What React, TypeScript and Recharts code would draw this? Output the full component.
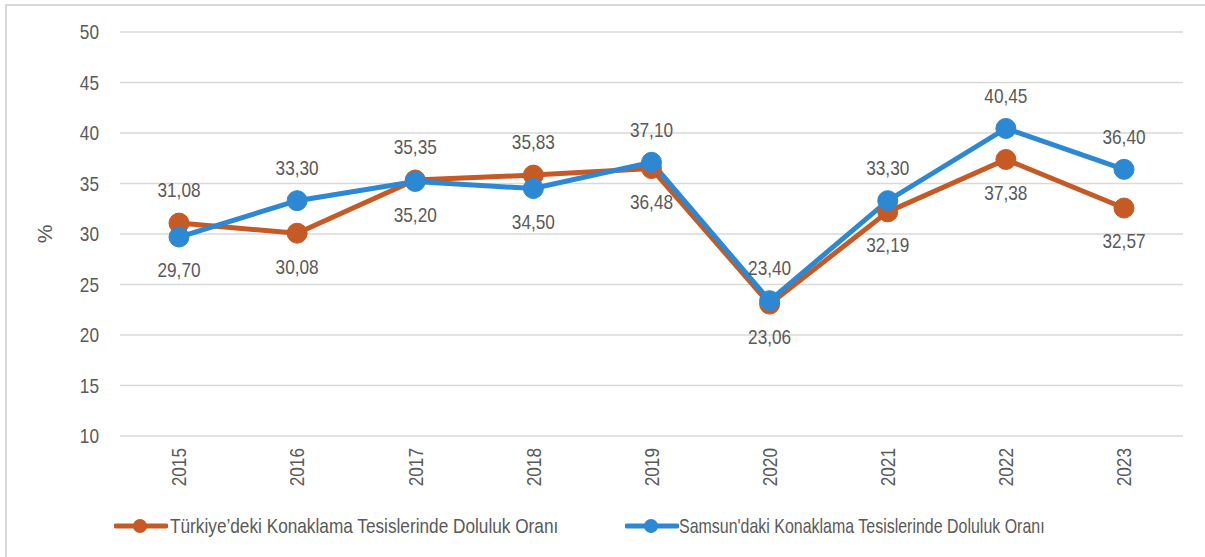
import { LineChart, Line, XAxis, YAxis, CartesianGrid, Legend, LabelList } from "recharts";

const years = ["2015", "2016", "2017", "2018", "2019", "2020", "2021", "2022", "2023"];
const turkiye = [31.08, 30.08, 35.35, 35.83, 36.48, 23.06, 32.19, 37.38, 32.57];
const samsun = [29.7, 33.3, 35.2, 34.5, 37.1, 23.4, 33.3, 40.45, 36.4];
const yTicks = [10, 15, 20, 25, 30, 35, 40, 45, 50];

const seriesNames = {
  tr: "Türkiye’deki Konaklama Tesislerinde Doluluk Oranı",
  sm: "Samsun'daki Konaklama Tesislerinde Doluluk Oranı",
};

const ORANGE = "#c55a24";
const BLUE = "#2c88d2";
const TEXT = "#595959";
// no Arial Narrow available: Liberation Sans squeezed horizontally instead
const FONT = "'Liberation Sans', Arial, sans-serif";
const NARROW = 0.82;

const data = years.map((y, i) => ({ year: y, tr: turkiye[i], sm: samsun[i] }));

const fmt = (v: number) => v.toFixed(2).replace(".", ",");

const NarrowText = ({ x, y, rotate = 0, anchor = "middle", children }: any) => (
  <text
    transform={`translate(${x}, ${y}) rotate(${rotate}) scale(${NARROW}, 1)`}
    x={0}
    y={0}
    dy="0.35em"
    textAnchor={anchor}
    fill={TEXT}
    fontSize={21}
    fontFamily={FONT}
  >
    {children}
  </text>
);

// higher of the two series gets its label above, the lower one below
const makeLabel = (key: "tr" | "sm") => (props: any) => {
  const { x, y, value, index } = props;
  const other = key === "tr" ? samsun[index] : turkiye[index];
  const above = value >= other;
  return (
    <NarrowText x={x} y={above ? y - 33 : y + 33}>
      {fmt(value)}
    </NarrowText>
  );
};

const YearTick = ({ x, y, payload }: any) => (
  <NarrowText x={x} y={y} rotate={-90} anchor="end">
    {payload.value}
  </NarrowText>
);

const ValueTick = ({ x, y, payload }: any) => (
  <NarrowText x={x} y={y} anchor="end">
    {payload.value}
  </NarrowText>
);

const LegendIcon = ({ color }: { color: string }) => (
  <svg width={54} height={20} style={{ display: "block" }}>
    <line x1={2} y1={10} x2={52} y2={10} stroke={color} strokeWidth={5} strokeLinecap="round" />
    <circle cx={26} cy={10} r={7} fill={color} />
  </svg>
);

const legendText = (sx: number): React.CSSProperties => ({
  display: "inline-block",
  whiteSpace: "nowrap",
  transform: `scaleX(${sx})`,
  transformOrigin: "left center",
});

const CustomLegend = () => (
  <div style={{ position: "relative", width: 1205, height: 40, fontFamily: FONT, fontSize: 21, color: TEXT }}>
    <div style={{ position: "absolute", left: 114, top: 8, display: "flex", alignItems: "center" }}>
      <LegendIcon color={ORANGE} />
      <span style={{ ...legendText(NARROW), marginLeft: 2 }}>{seriesNames.tr}</span>
    </div>
    <div style={{ position: "absolute", left: 625, top: 8, display: "flex", alignItems: "center" }}>
      <LegendIcon color={BLUE} />
      <span style={legendText(0.76)}>{seriesNames.sm}</span>
    </div>
  </div>
);

export default function App() {
  return (
    <div style={{ position: "absolute", left: 0, top: 0, width: 1205, height: 557, background: "#fff" }}>
      <div
        style={{
          position: "absolute",
          left: 5,
          top: 4,
          right: 0,
          bottom: 0,
          borderTop: "2px solid #d9d9d9",
          borderLeft: "2px solid #d9d9d9",
        }}
      />
      <LineChart width={1205} height={557} data={data} margin={{ top: 32, right: 22, left: 0, bottom: 11 }}>
        <CartesianGrid vertical={false} stroke="#d9d9d9" strokeWidth={1.5} />
        <XAxis
          dataKey="year"
          axisLine={false}
          tickLine={false}
          tickSize={0}
          tickMargin={12}
          height={70}
          interval={0}
          padding={{ left: 59, right: 59 }}
          tick={<YearTick />}
        />
        <YAxis
          domain={[10, 50]}
          ticks={yTicks}
          width={120}
          axisLine={false}
          tickLine={false}
          tickSize={0}
          tickMargin={21}
          tick={<ValueTick />}
          label={{ value: "%", angle: -90, position: "center", dx: -15, fill: TEXT, fontSize: 21, fontFamily: FONT }}
        />
        <Legend verticalAlign="bottom" content={<CustomLegend />} wrapperStyle={{ left: 0, width: 1205 }} />
        <Line
          dataKey="tr"
          name={seriesNames.tr}
          stroke={ORANGE}
          strokeWidth={5}
          dot={{ r: 10, fill: ORANGE, stroke: ORANGE, strokeWidth: 1 }}
          activeDot={false}
          isAnimationActive={false}
        >
          <LabelList dataKey="tr" content={makeLabel("tr")} />
        </Line>
        <Line
          dataKey="sm"
          name={seriesNames.sm}
          stroke={BLUE}
          strokeWidth={5}
          dot={{ r: 10, fill: BLUE, stroke: BLUE, strokeWidth: 1 }}
          activeDot={false}
          isAnimationActive={false}
        >
          <LabelList dataKey="sm" content={makeLabel("sm")} />
        </Line>
      </LineChart>
    </div>
  );
}
